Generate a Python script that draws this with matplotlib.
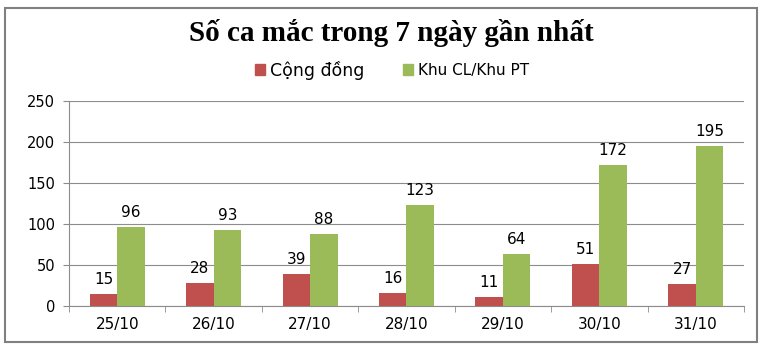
import matplotlib
matplotlib.use("Agg")
import matplotlib.pyplot as plt
import matplotlib.patches as mpatches
import numpy as np

categories = ["25/10", "26/10", "27/10", "28/10", "29/10", "30/10", "31/10"]
cong_dong = [15, 28, 39, 16, 11, 51, 27]
khu_cl = [96, 93, 88, 123, 64, 172, 195]
series_names = ["Cộng đồng", "Khu CL/Khu PT"]
title = "Số ca mắc trong 7 ngày gần nhất"
yticks = [0, 50, 100, 150, 200, 250]

RED = "#C0504D"
GREEN = "#9BBB59"
GRID = "#8C8C8C"

fig = plt.figure(figsize=(7.62, 3.46), dpi=100)
W, H = 762, 346

# outer frame
fig.patches.append(mpatches.Rectangle((5 / W, 1 - 342 / H), 752 / W, 334 / H,
                                      transform=fig.transFigure, fill=False,
                                      edgecolor="#808080", linewidth=1.5))

ax = fig.add_axes([69 / W, 1 - 306 / H, 675 / W, 205 / H])
x = np.arange(len(categories))
bw = 0.285
b1 = ax.bar(x - bw / 2, cong_dong, bw, color=RED, zorder=3)
b2 = ax.bar(x + bw / 2, khu_cl, bw, color=GREEN, zorder=3)

for bars, vals in ((b1, cong_dong), (b2, khu_cl)):
    for rect, v in zip(bars, vals):
        ax.annotate(str(v), (rect.get_x() + rect.get_width() / 2, v),
                    xytext=(0, 5), textcoords="offset points",
                    ha="center", va="bottom", fontsize=11, color="black",
                    family="DejaVu Sans")

ax.set_xlim(-0.5, len(categories) - 0.5)
ax.set_ylim(0, 250)
ax.set_yticks(yticks)
ax.set_yticklabels([str(t) for t in yticks], fontsize=10.5)
ax.yaxis.grid(True, color=GRID, linewidth=0.8, zorder=0)
ax.tick_params(axis="y", length=4, color=GRID, pad=6)

ax.set_xticks(x)
ax.set_xticklabels(categories, fontsize=11)
ax.tick_params(axis="x", length=0, pad=8)
ax.set_xticks(np.arange(-0.5, len(categories), 1), minor=True)
ax.tick_params(axis="x", which="minor", length=4, color=GRID, direction="out")

for s in ("top", "right"):
    ax.spines[s].set_visible(False)
for s in ("left", "bottom"):
    ax.spines[s].set_color(GRID)
    ax.spines[s].set_linewidth(0.8)

fig.text(391 / W, 1 - 33 / H, title, ha="center", va="center",
         fontsize=21, fontweight="bold", family="Liberation Serif")

handles = [mpatches.Patch(color=RED), mpatches.Patch(color=GREEN)]
leg = fig.legend(handles, series_names, loc="center", ncol=2,
                 bbox_to_anchor=(392 / W, 1 - 70 / H), frameon=False,
                 fontsize=12.5, handlelength=0.6, handleheight=0.6,
                 handletextpad=0.3, columnspacing=2.2)
leg.get_texts()[1].set_fontsize(11)

fig.savefig("out.png", dpi=100)
